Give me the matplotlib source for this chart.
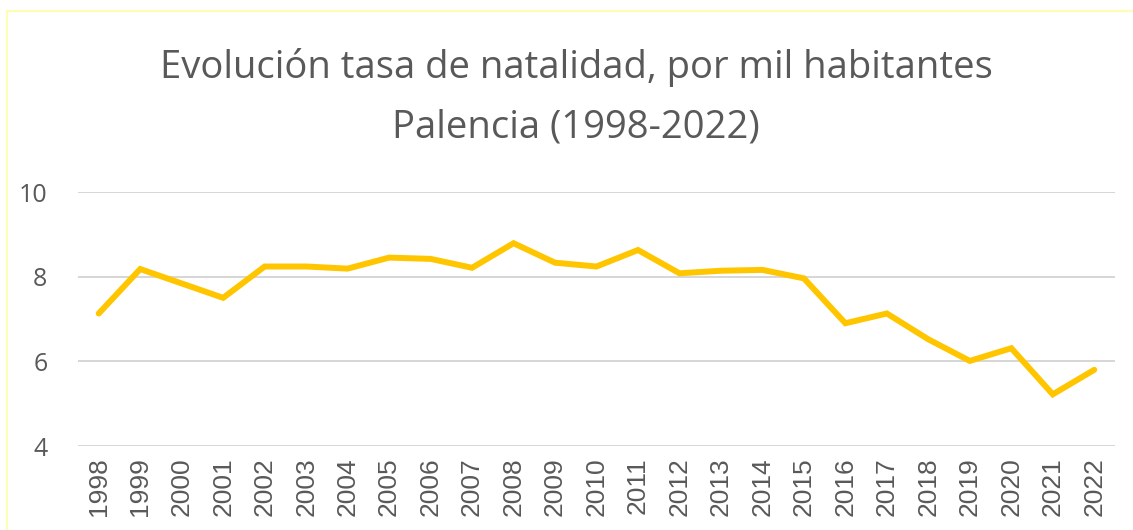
import numpy as np
import matplotlib
matplotlib.use("Agg")
import matplotlib.pyplot as plt
from matplotlib.lines import Line2D

# Datos: tasa de natalidad por mil habitantes, Palencia
years = [str(y) for y in range(1998, 2023)]
rate = [7.13, 8.18, 7.84, 7.50, 8.24, 8.24, 8.19, 8.45, 8.42, 8.21,
        8.79, 8.33, 8.24, 8.63, 8.08, 8.14, 8.16, 7.96, 6.90, 7.13,
        6.52, 6.01, 6.31, 5.22, 5.80]
y_ticks = [4, 6, 8, 10]

title_1 = "Evolución tasa de natalidad, por mil habitantes"
title_2 = "Palencia (1998-2022)"

grey = "#595959"
W, H = 1133, 530

fig = plt.figure(figsize=(W / 100, H / 100), dpi=100)
ax = fig.add_axes([78 / W, 1 - 446 / H, 1037 / W, 254 / H])

x = np.arange(len(years))
ax.plot(x, rate, color="#FFC600", lw=4.3, solid_joinstyle="miter", solid_capstyle="round", zorder=3)

ax.set_xlim(-0.5, len(years) - 0.5)
ax.set_ylim(4, 10)
ax.set_yticks(y_ticks)
ax.set_yticklabels([str(v) for v in y_ticks], fontfamily="Open Sans", fontsize=18, color=grey)
ax.set_xticks(x)
ax.set_xticklabels(years, rotation=90, fontfamily="Liberation Sans", fontsize=19, color=grey)
ax.tick_params(axis="y", length=0, pad=22)
ax.tick_params(axis="x", length=0, pad=8)
ax.grid(axis="y", color="#D6D6D6", lw=1.4)
ax.set_axisbelow(True)
for s in ax.spines.values():
    s.set_visible(False)

fig.text(576 / W, 1 - 78 / H, title_1, ha="center", va="baseline",
         fontfamily="Open Sans", fontsize=27.5, color=grey)
fig.text(576 / W, 1 - 138 / H, title_2, ha="center", va="baseline",
         fontfamily="Open Sans", fontsize=27.5, color=grey)

# borde amarillo claro del gráfico
fig.add_artist(Line2D([7 / W, 7 / W], [0, 1 - 11 / H], color="#FDFDB8", lw=1.6))
fig.add_artist(Line2D([7 / W, 1], [1 - 11 / H, 1 - 11 / H], color="#FDFDB8", lw=1.6))

fig.savefig("out.png", dpi=100)
